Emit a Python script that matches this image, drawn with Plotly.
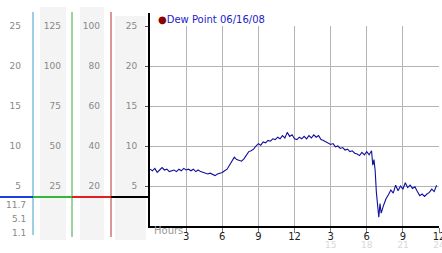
import plotly.graph_objects as go

# ---------------- data ----------------
hours = [0.0, 0.2, 0.4, 0.6, 0.8, 1.0, 1.2, 1.4, 1.6, 1.8, 2.0, 2.2, 2.4, 2.6, 2.8,
         3.0, 3.2, 3.4, 3.6, 3.8, 4.0, 4.2, 4.4, 4.6, 4.8, 5.0, 5.2, 5.4, 5.6, 5.8,
         6.0, 6.2, 6.4, 6.6, 6.8, 7.0, 7.2, 7.4, 7.6, 7.8, 8.0, 8.2, 8.4, 8.6, 8.8,
         9.0, 9.2, 9.4, 9.6, 9.8, 10.0, 10.2, 10.4, 10.6, 10.8, 11.0, 11.2, 11.4, 11.6, 11.8,
         12.0, 12.2, 12.4, 12.6, 12.8, 13.0, 13.2, 13.4, 13.6, 13.8, 14.0, 14.2, 14.4, 14.6, 14.8,
         15.0, 15.2, 15.4, 15.6, 15.8, 16.0, 16.2, 16.4, 16.6, 16.8, 17.0, 17.2, 17.4, 17.6, 17.8,
         18.0, 18.2, 18.4, 18.5, 18.6, 18.7, 18.8, 18.9, 19.0, 19.1, 19.2, 19.4, 19.6, 19.8,
         20.0, 20.2, 20.4, 20.6, 20.8, 21.0, 21.2, 21.4, 21.6, 21.8, 22.0, 22.2, 22.4, 22.6, 22.8,
         23.0, 23.2, 23.4, 23.6, 23.8]
dew_point = [7.1, 6.9, 7.2, 6.7, 7.0, 7.3, 7.0, 7.1, 6.8, 6.9, 7.0, 6.8, 7.1, 6.9, 7.2,
             7.0, 7.1, 6.9, 7.1, 6.8, 7.0, 6.8, 6.7, 6.6, 6.5, 6.6, 6.4, 6.3, 6.5, 6.6,
             6.7, 6.9, 7.1, 7.6, 8.2, 8.6, 8.3, 8.2, 8.1, 8.4, 8.8, 9.3, 9.4, 9.6, 10.0,
             10.3, 10.1, 10.5, 10.4, 10.7, 10.6, 10.9, 10.8, 11.1, 10.9, 11.3, 11.0, 11.7, 11.2, 11.4,
             10.9, 10.8, 11.1, 10.9, 11.2, 10.9, 11.3, 11.0, 11.4, 11.1, 11.3, 10.8, 10.7, 10.5, 10.4,
             10.2, 10.3, 9.9, 10.0, 9.7, 9.8, 9.5, 9.6, 9.3, 9.4, 9.1, 9.0, 8.8, 9.2, 8.9,
             9.3, 8.9, 9.4, 7.6, 8.3, 6.9, 4.2, 2.4, 1.1, 2.8, 1.6, 2.6, 3.4, 3.9,
             4.5, 4.1, 5.1, 4.4, 5.0, 4.6, 5.4, 4.8, 5.1, 4.7, 4.9, 4.3, 3.8, 4.0, 3.7,
             4.0, 4.2, 4.6, 4.3, 5.1]
series_name = "Dew Point 06/16/08"

x_tickvals = [3, 6, 9, 12, 15, 18, 21, 24]
x_ticktext = ["3", "6", "9", "12", "3", "6", "9", "12"]
x2_tickvals = [15, 18, 21, 24]
x2_ticktext = ["15", "18", "21", "24"]

col1_ticks = [5, 10, 15, 20, 25]
col2_ticks = [25, 50, 75, 100, 125]
col3_ticks = [20, 40, 60, 80, 100]
col4_ticks = [5, 10, 15, 20, 25]

# ---------------- geometry helpers ----------------
W, H = 442, 253
ML, MR, MT, MB = 0, 3, 26, 27
PW = W - ML - MR          # paper width in px
PH = H - MT - MB          # plot height in px
PLOT_LEFT = 150


def xp(px):
    return px / PW


def yp(py):
    return (H - MB - py) / PH


FONT = "DejaVu Sans"

fig = go.Figure()
fig.add_trace(go.Scatter(x=hours, y=dew_point, mode="lines",
                         line=dict(color="#10109c", width=1.1),
                         showlegend=False, hoverinfo="skip"))

fig.update_layout(
    width=W, height=H,
    margin=dict(l=ML, r=MR, t=MT, b=MB, pad=0),
    template="none",
    paper_bgcolor="white", plot_bgcolor="white",
    font=dict(family=FONT, size=9, color="#888888"),
    showlegend=False,
    xaxis=dict(domain=[xp(PLOT_LEFT), 1], range=[0, 24], tickvals=x_tickvals,
               ticktext=x_ticktext, showgrid=True, gridcolor="#b4b4b4", gridwidth=1,
               zeroline=False, showline=True, linecolor="black", linewidth=2,
               ticks="outside", ticklen=5, tickcolor="#777777", tickwidth=1,
               tickfont=dict(size=10, color="#222222"), ticklabelstandoff=-5,
               ticklabeloverflow="allow", automargin=False, fixedrange=True),
    xaxis2=dict(overlaying="x", matches="x", anchor="y", side="bottom", range=[0, 24],
                tickvals=x2_tickvals, ticktext=x2_ticktext, showgrid=False,
                zeroline=False, showline=False, ticks="",
                tickfont=dict(size=9, color="#d8d8d8"), ticklabelstandoff=12,
                ticklabeloverflow="allow", automargin=False),
    yaxis=dict(domain=[0, 1], range=[0, 25], tickvals=col4_ticks, showgrid=True,
               gridcolor="#b4b4b4", gridwidth=1, zeroline=False, showline=True,
               linecolor="black", linewidth=2, ticks="outside", ticklen=3,
               tickcolor="#555555", tickfont=dict(size=9, color="#888888"),
               ticklabelstandoff=6, automargin=False, fixedrange=True),
    yaxis2=dict(overlaying="y", anchor="free", position=xp(21), side="left",
                range=[0, 25], tickvals=col1_ticks, showgrid=False, zeroline=False,
                showline=False, ticks="", tickfont=dict(size=9, color="#888888"),
                automargin=False),
    yaxis3=dict(overlaying="y", anchor="free", position=xp(61), side="left",
                range=[0, 125], tickvals=col2_ticks, showgrid=False, zeroline=False,
                showline=False, ticks="", tickfont=dict(size=9, color="#888888"),
                automargin=False),
    yaxis4=dict(overlaying="y", anchor="free", position=xp(100), side="left",
                range=[0, 100], tickvals=col3_ticks, showgrid=False, zeroline=False,
                showline=False, ticks="", tickfont=dict(size=9, color="#888888"),
                automargin=False),
)

# invisible traces to activate the extra axes
fig.add_trace(go.Scatter(x=[None], y=[None], xaxis="x2", yaxis="y", showlegend=False))
fig.add_trace(go.Scatter(x=[None], y=[None], yaxis="y2", showlegend=False))
fig.add_trace(go.Scatter(x=[None], y=[None], yaxis="y3", showlegend=False))
fig.add_trace(go.Scatter(x=[None], y=[None], yaxis="y4", showlegend=False))

shapes = []
# grey column backgrounds
for (x0, x1, y0, y1) in [(40, 66, 7, 240), (80, 104, 7, 240), (115, 146, 16, 240)]:
    shapes.append(dict(type="rect", xref="paper", yref="paper", x0=xp(x0), x1=xp(x1),
                       y0=yp(y1), y1=yp(y0), fillcolor="#f4f4f4", line=dict(width=0),
                       layer="below"))
# coloured separators
for (x, y0, y1, c) in [(33, 12, 235, "#3a9cc4"), (72, 12, 237, "#3aa83a"), (111, 12, 237, "#b83030")]:
    shapes.append(dict(type="line", xref="paper", yref="paper", x0=xp(x), x1=xp(x),
                       y0=yp(y1), y1=yp(y0), line=dict(color=c, width=1)))
# thick horizontal indicator
for (x0, x1, c) in [(0, 33, "#1a3fe0"), (33, 72, "#36b836"), (72, 111, "#e02020"), (111, 149, "black")]:
    shapes.append(dict(type="line", xref="paper", yref="paper", x0=xp(x0), x1=xp(x1),
                       y0=yp(197), y1=yp(197), line=dict(color=c, width=2)))
# axis line extension above the grid
shapes.append(dict(type="line", xref="paper", yref="paper", x0=xp(PLOT_LEFT - 1), x1=xp(PLOT_LEFT - 1),
                   y0=yp(27), y1=yp(13), line=dict(color="black", width=2)))
fig.update_layout(shapes=shapes)

ann = []
ann.append(dict(xref="paper", yref="paper", x=xp(156), y=yp(20), xanchor="left", yanchor="middle",
                showarrow=False,
                text="<span style='color:#8b0000'>●</span><span style='color:#1c1cc8'>" + series_name + "</span>",
                font=dict(size=10, family=FONT)))
ann.append(dict(xref="paper", yref="paper", x=xp(152), y=yp(231), xanchor="left", yanchor="middle",
                showarrow=False, text="Hours", font=dict(size=10, color="#999999")))
stats = [max(dew_point), dew_point[-1], min(dew_point)]
for v, py in zip(stats, [205, 219, 233]):
    ann.append(dict(xref="paper", yref="paper", x=xp(28), y=yp(py), xanchor="right",
                    yanchor="middle", showarrow=False, text=f"{v:.1f}",
                    font=dict(size=9, color="#888888")))
fig.update_layout(annotations=ann)

fig.write_html("out.html", config={"displayModeBar": False})
